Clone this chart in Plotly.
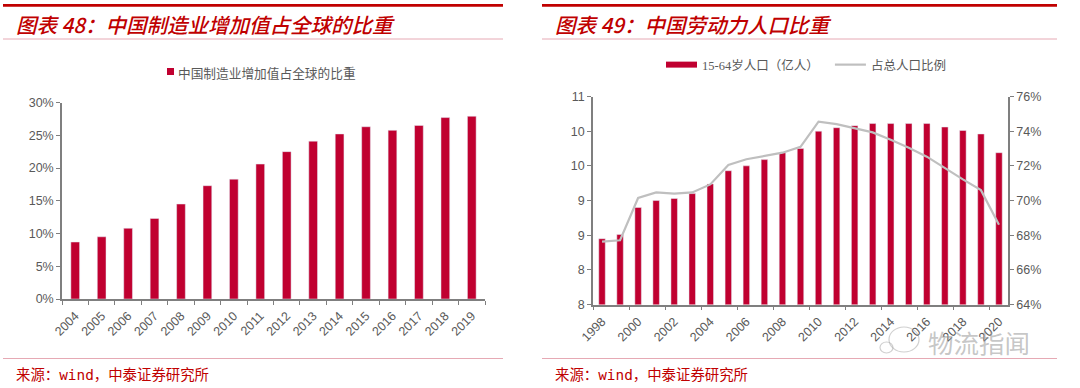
import plotly.graph_objects as go

W, H = 1080, 388
years_l = [str(y) for y in range(2004, 2020)]
share = [8.7, 9.5, 10.8, 12.3, 14.5, 17.3, 18.3, 20.6, 22.5, 24.1, 25.2, 26.3, 25.75, 26.5, 27.7, 27.9]
years_r = [str(y) for y in range(1998, 2021)]
pop = [8.95, 9.01, 9.40, 9.50, 9.53, 9.60, 9.74, 9.93, 10.0, 10.09, 10.19, 10.25, 10.5, 10.55, 10.58, 10.61,
       10.61, 10.61, 10.61, 10.56, 10.51, 10.46, 10.19]
ratio = [67.63, 67.71, 70.15, 70.47, 70.4, 70.47, 70.93, 72.05, 72.38, 72.57, 72.76, 73.1, 74.55, 74.41, 74.17,
         73.93, 73.5, 73.05, 72.53, 71.86, 71.22, 70.6, 68.6]
pop_ticks = [8, 8.5, 9, 9.5, 10, 10.5, 11]
pop_labels = ["8", "8", "9", "9", "10", "10", "11"]
ratio_ticks = [64, 66, 68, 70, 72, 74, 76]
ratio_labels = ["64%", "66%", "68%", "70%", "72%", "74%", "76%"]
share_ticks = [0, 5, 10, 15, 20, 25, 30]
share_labels = ["0%", "5%", "10%", "15%", "20%", "25%", "30%"]
name_l = "中国制造业增加值占全球的比重"
name_bar = "15-64岁人口\uff08亿人\uff09"
name_line = "占总人口比例"
title_l = "图表 48\uff1a中国制造业增加值占全球的比重"
title_r = "图表 49\uff1a中国劳动力人口比重"
source = "来源\uff1awind\uff0c中泰证券研究所"

RED = "#C00030"
GRAY = "#7F7F7F"
TXT = "#595959"
FONT = "Liberation Sans, Arial, sans-serif"
CJK = "Noto Sans CJK SC, sans-serif"

def px(x): return x / W
def py(y): return 1 - y / H

fig = go.Figure()
fig.add_bar(x=years_l, y=share, name=name_l, marker_color=RED, width=0.33, xaxis="x", yaxis="y", showlegend=False)
fig.add_bar(x=years_r, y=pop, name=name_bar, marker_color=RED, width=0.36, xaxis="x2", yaxis="y2", showlegend=False)
fig.add_scatter(x=[None], y=[None], name=name_bar + "\u3000", mode="lines", line=dict(color=RED, width=6),
                xaxis="x2", yaxis="y2", legend="legend2")
fig.add_scatter(x=years_r, y=ratio, name=name_line, mode="lines", line=dict(color="#BFBFBF", width=2.2),
                xaxis="x2", yaxis="y3", legend="legend2")

ax = dict(showgrid=False, zeroline=False, showline=True, linecolor=GRAY, linewidth=1.5, ticks="outside",
          ticklen=4, tickcolor=GRAY, tickfont=dict(family=FONT, size=12.5, color=TXT))

shapes = []
annots = []
for x0, x1 in [(3, 503), (542, 1057)]:
    shapes.append(dict(type="rect", xref="paper", yref="paper", x0=px(x0), x1=px(x1), y0=py(6.7), y1=py(4),
                       fillcolor="#C00000", line_width=0))
    for y in (39, 358.5):
        shapes.append(dict(type="line", xref="paper", yref="paper", x0=px(x0), x1=px(x1), y0=py(y), y1=py(y),
                           line=dict(color="#E6A9B4", width=1)))

# left legend swatch and the watermark's bubble outline
shapes.append(dict(type="rect", xref="paper", yref="paper", x0=px(167), x1=px(174), y0=py(75), y1=py(68),
                   fillcolor=RED, line_width=0))
for box in [(889, 327, 919, 352), (880, 342, 893, 353)]:
    shapes.append(dict(type="circle", xref="paper", yref="paper", x0=px(box[0]), x1=px(box[2]), y0=py(box[3]), y1=py(box[1]),
                       line=dict(color="rgba(150,150,150,0.45)", width=1.2)))

def note(x, y, text, size, color, style="normal", weight="normal", family=CJK, anchor="left"):
    annots.append(dict(xref="paper", yref="paper", x=px(x), y=py(y), text=text, showarrow=False, xanchor=anchor,
                       yanchor="middle", font=dict(family=family, size=size, color=color, style=style, weight=weight)))

note(14, 24, title_l, 20.5, "#C00000", "italic", 500)
note(553, 24, title_r, 20.5, "#C00000", "italic", 500)
SRC = "DejaVu Sans Mono, Noto Sans CJK SC, monospace"
note(14, 375, source, 14.4, "#C00000", family=SRC)
note(553, 375, source, 14.4, "#C00000", family=SRC)
note(175.5, 72, name_l, 12.7, TXT)
note(926, 341, "物流指闻", 25.5, "rgba(150,150,150,0.55)")

fig.update_layout(
    width=W, height=H, autosize=False, margin=dict(l=0, r=0, t=0, b=0, autoexpand=False),
    paper_bgcolor="white", plot_bgcolor="white", barmode="overlay", shapes=shapes, annotations=annots,
    xaxis=dict(ax, domain=[px(62), px(485)], anchor="y", type="category", tickson="boundaries", tickangle=-45, ticklabelstandoff=3),
    yaxis=dict(ax, domain=[py(299), py(102.5)], anchor="x", range=[0, 30], tickvals=share_ticks, ticktext=share_labels),
    xaxis2=dict(ax, domain=[px(593), px(1008)], anchor="y2", type="category", tickson="boundaries", dtick=2, tickangle=-45, ticklabelstandoff=3),
    yaxis2=dict(ax, domain=[py(304.6), py(96.5)], anchor="x2", range=[8, 11], tickvals=pop_ticks, ticktext=pop_labels),
    yaxis3=dict(ax, overlaying="y2", anchor="x2", side="right", range=[64, 76], tickvals=ratio_ticks, ticktext=ratio_labels),
    showlegend=True,
    legend2=dict(x=px(806), y=py(65), xanchor="center", yanchor="middle", orientation="h", itemwidth=31,
                 font=dict(family="Liberation Serif, Noto Sans CJK SC, serif", size=12.5, color=TXT), bgcolor="rgba(0,0,0,0)"),
)
fig.write_html("out.html", config=dict(displayModeBar=False),
               post_script="document.body.style.margin='0';document.documentElement.style.overflow='hidden';")
